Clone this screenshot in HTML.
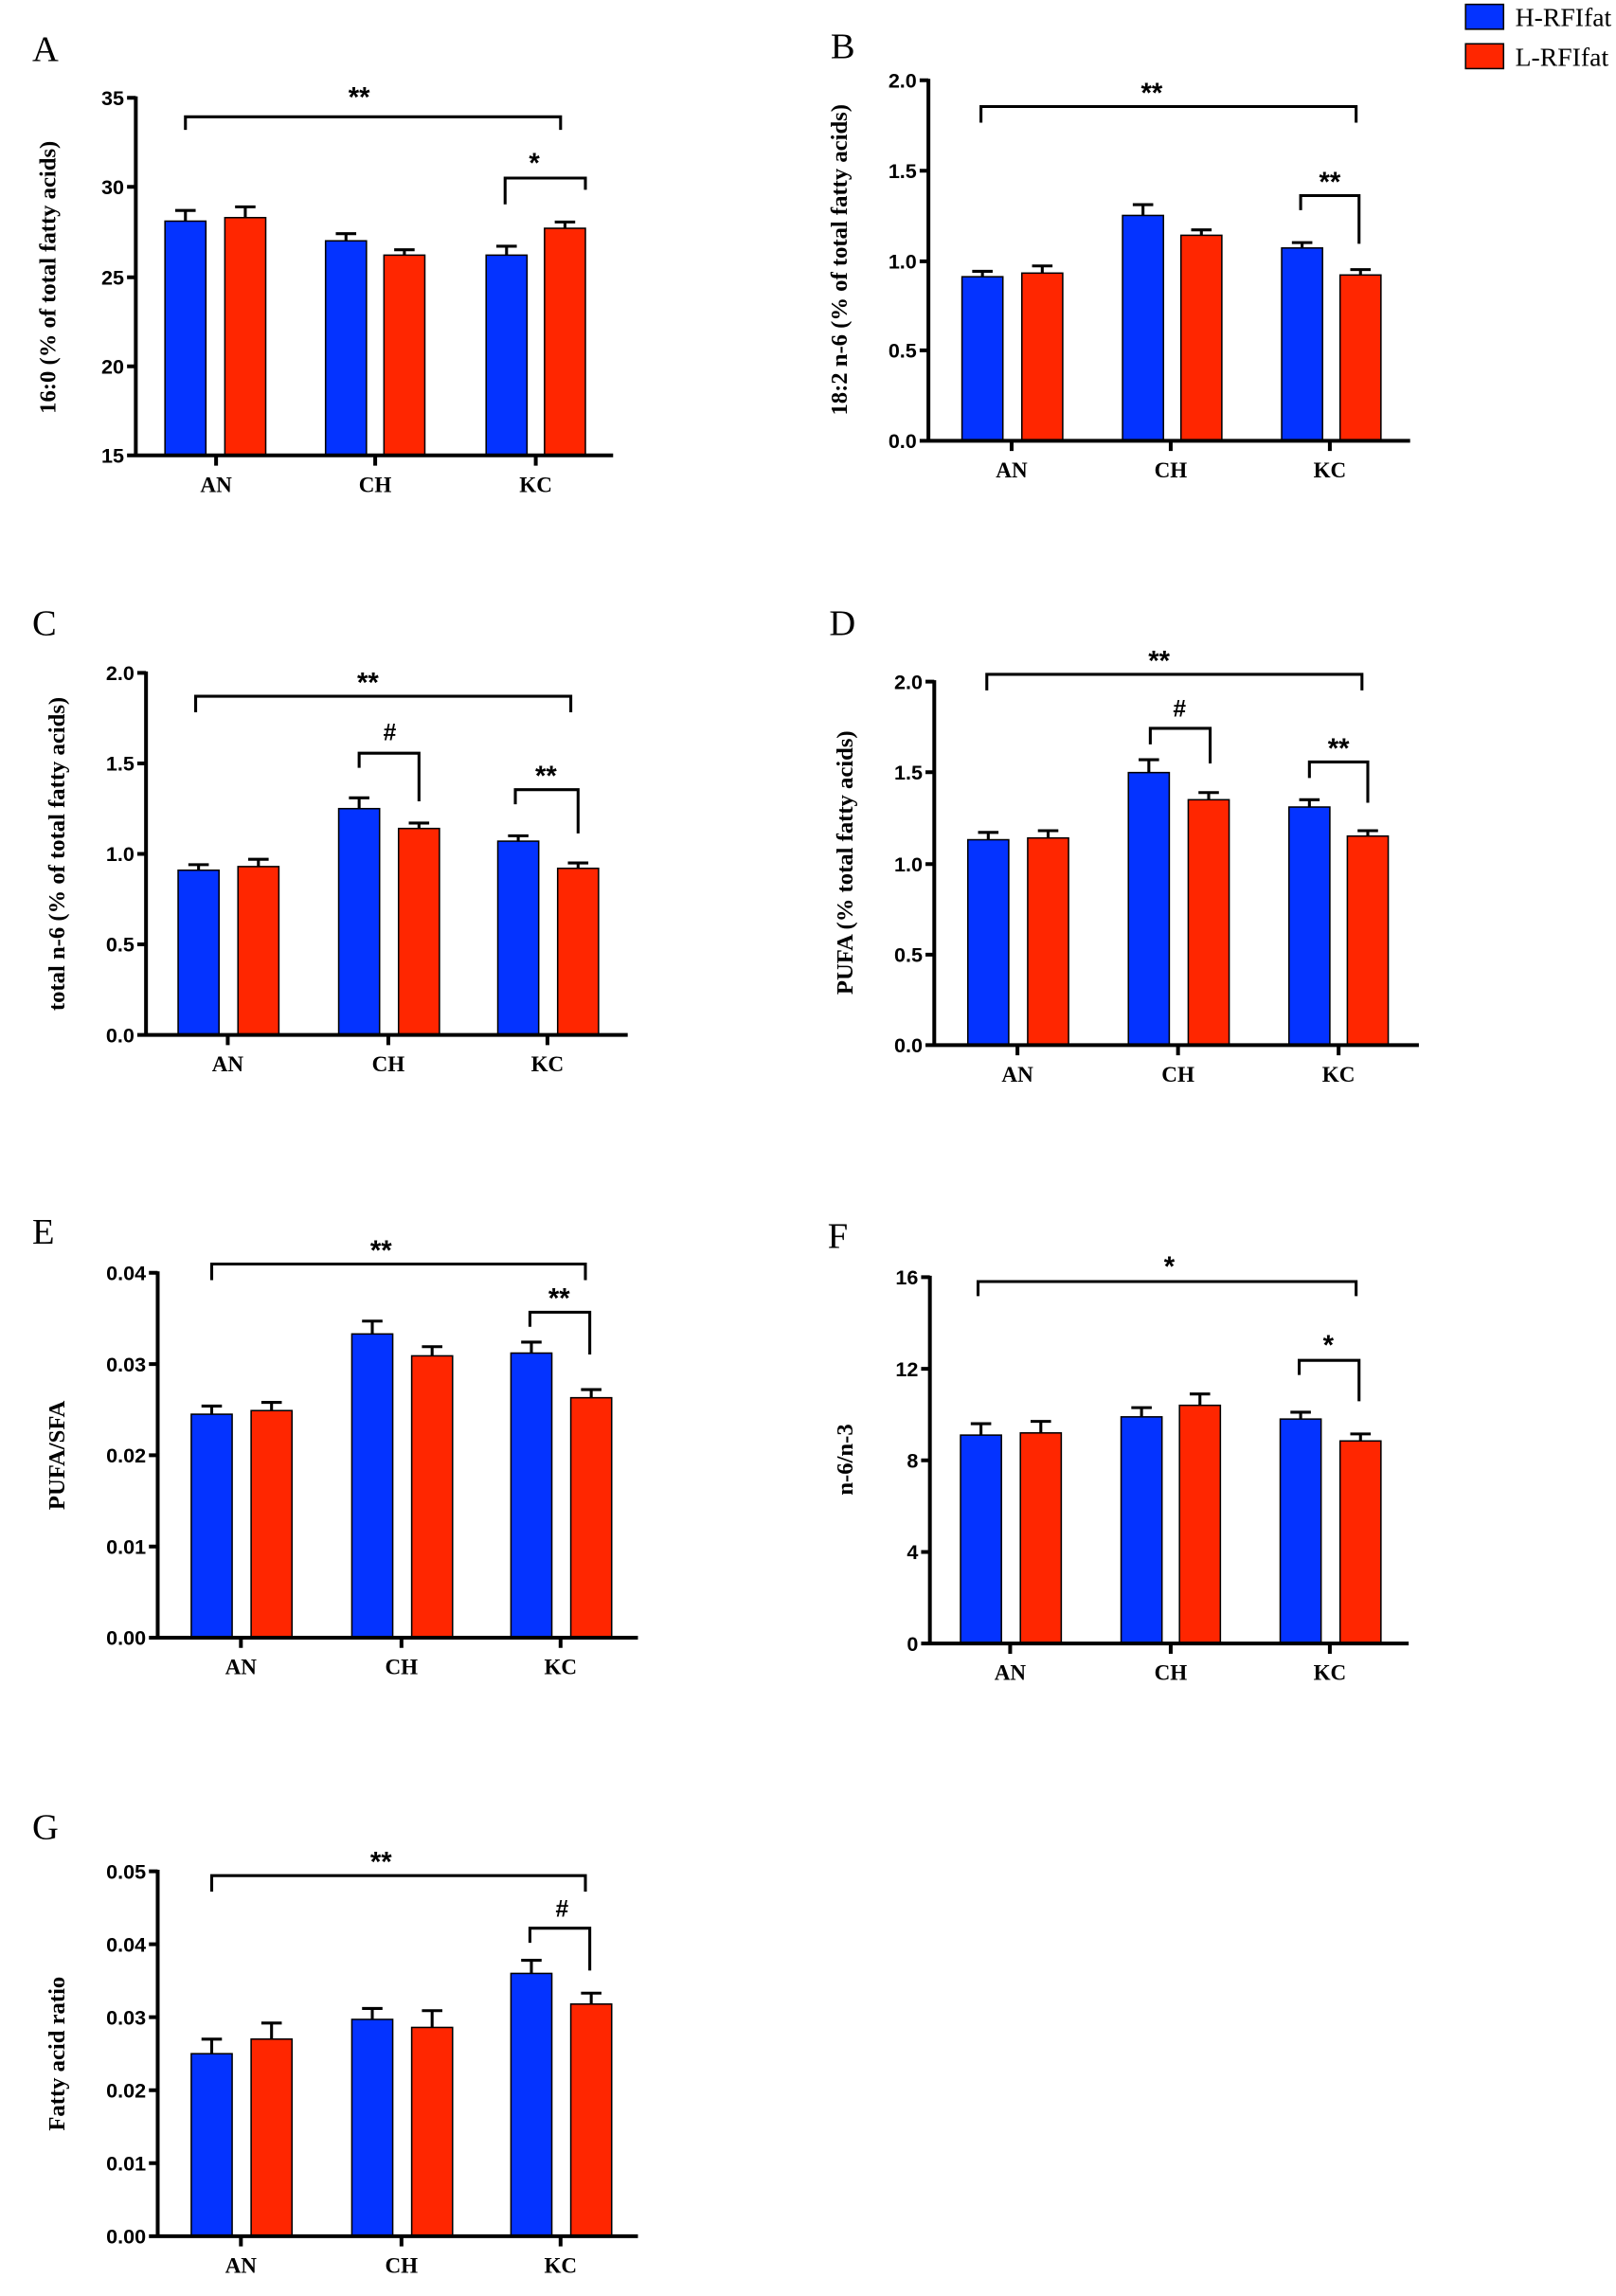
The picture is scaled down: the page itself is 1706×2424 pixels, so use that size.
<!DOCTYPE html>
<html><head><meta charset="utf-8"><style>
html,body{margin:0;padding:0;background:#fff;}
svg{display:block;}
.t{font-family:"Liberation Sans Narrow","Liberation Sans",sans-serif;font-weight:bold;font-size:14px;text-anchor:end;}
.c{font-family:"Liberation Serif",serif;font-weight:bold;font-size:15px;text-anchor:middle;}
.y{font-family:"Liberation Serif",serif;font-weight:bold;font-size:16px;text-anchor:middle;}
.L{font-family:"Liberation Serif",serif;font-size:25px;}
.s{font-family:"Liberation Sans",sans-serif;font-weight:bold;font-size:19px;text-anchor:middle;}
.lg{font-family:"Liberation Serif",serif;font-size:18px;}
.b{fill:#0433ff;stroke:#000;stroke-width:1;}
.r{fill:#ff2600;stroke:#000;stroke-width:1;}
.ax{stroke:#000;stroke-width:2.6;fill:none;}
.e{stroke:#000;stroke-width:2;fill:none;}
.br{stroke:#000;stroke-width:2;fill:none;}
</style></head><body>
<svg width="1706" height="2424" viewBox="0 0 1107 1573" xmlns="http://www.w3.org/2000/svg">
<!-- Legend -->
<rect x="1004" y="3" width="26" height="17" class="b"/>
<text x="1038" y="18" class="lg">H-RFIfat</text>
<rect x="1004" y="30" width="26" height="17" class="r"/>
<text x="1038" y="45" class="lg">L-RFIfat</text>

<!-- Panel A -->
<text x="22" y="42" class="L">A</text>
<text class="y" transform="translate(38,190) rotate(-90)">16:0 (% of total fatty acids)</text>
<rect x="113" y="151.5" width="28" height="160.5" class="b"/>
<rect x="154" y="149.1" width="28" height="162.9" class="r"/>
<rect x="223" y="165" width="28" height="147" class="b"/>
<rect x="263" y="174.8" width="28" height="137.2" class="r"/>
<rect x="333" y="174.8" width="28" height="137.2" class="b"/>
<rect x="373" y="156.4" width="28" height="155.6" class="r"/>
<path class="e" d="M127 151.5V144.2M120 144.2H134M168 149.1V141.7M161 141.7H175M237 165V160.1M230 160.1H244M277 174.8V171.1M270 171.1H284M347 174.8V168.7M340 168.7H354M387 156.4V152.1M380 152.1H394"/>
<path class="ax" d="M93 66V313M87 67H93M87 128H93M87 190H93M87 251H93M87 312H93M89 312H420M148 312V319M257 312V319M367 312V319"/>
<text x="85" y="72" class="t">35</text><text x="85" y="133" class="t">30</text><text x="85" y="195" class="t">25</text><text x="85" y="256" class="t">20</text><text x="85" y="317" class="t">15</text>
<text x="148" y="337" class="c">AN</text><text x="257" y="337" class="c">CH</text><text x="367" y="337" class="c">KC</text>
<path class="br" d="M127 89V80H384V89M346 140V122H401V130"/>
<text x="246" y="73" class="s">**</text><text x="366" y="118" class="s">*</text>

<!-- Panel B -->
<text x="569" y="40" class="L">B</text>
<text class="y" transform="translate(580,178) rotate(-90)">18:2 n-6 (% of total fatty acids)</text>
<rect x="659" y="189.6" width="28" height="112.4" class="b"/>
<rect x="700" y="187.1" width="28" height="114.9" class="r"/>
<rect x="769" y="147.6" width="28" height="154.4" class="b"/>
<rect x="809" y="161.2" width="28" height="140.8" class="r"/>
<rect x="878" y="169.9" width="28" height="132.1" class="b"/>
<rect x="918" y="188.4" width="28" height="113.6" class="r"/>
<path class="e" d="M673 189.6V185.9M666 185.9H680M714 187.1V182.2M707 182.2H721M783 147.6V140.2M776 140.2H790M823 161.2V157.5M816 157.5H830M892 169.9V166.2M885 166.2H899M932 188.4V184.7M925 184.7H939"/>
<path class="ax" d="M636 54V303M630 55H636M630 117H636M630 179H636M630 240H636M630 302H636M632 302H966M693 302V309M802 302V309M911 302V309"/>
<text x="628" y="60" class="t">2.0</text><text x="628" y="122" class="t">1.5</text><text x="628" y="184" class="t">1.0</text><text x="628" y="245" class="t">0.5</text><text x="628" y="307" class="t">0.0</text>
<text x="693" y="327" class="c">AN</text><text x="802" y="327" class="c">CH</text><text x="911" y="327" class="c">KC</text>
<path class="br" d="M672 84V73H929V84M891 144V134H931V167"/>
<text x="789" y="70" class="s">**</text><text x="911" y="131" class="s">**</text>

<!-- Panel C -->
<text x="22" y="435" class="L">C</text>
<text class="y" transform="translate(44,585) rotate(-90)">total n-6 (% of total fatty acids)</text>
<rect x="122" y="596.2" width="28" height="112.8" class="b"/>
<rect x="163" y="593.7" width="28" height="115.3" class="r"/>
<rect x="232" y="554" width="28" height="155" class="b"/>
<rect x="273" y="567.6" width="28" height="141.4" class="r"/>
<rect x="341" y="576.3" width="28" height="132.7" class="b"/>
<rect x="382" y="594.9" width="28" height="114.1" class="r"/>
<path class="e" d="M136 596.2V592.4M129 592.4H143M177 593.7V588.7M170 588.7H184M246 554V546.6M239 546.6H253M287 567.6V563.9M280 563.9H294M355 576.3V572.6M348 572.6H362M396 594.9V591.2M389 591.2H403"/>
<path class="ax" d="M100 460V710M94 461H100M94 523H100M94 585H100M94 647H100M94 709H100M96 709H430M156 709V716M266 709V716M375 709V716"/>
<text x="92" y="466" class="t">2.0</text><text x="92" y="528" class="t">1.5</text><text x="92" y="590" class="t">1.0</text><text x="92" y="652" class="t">0.5</text><text x="92" y="714" class="t">0.0</text>
<text x="156" y="734" class="c">AN</text><text x="266" y="734" class="c">CH</text><text x="375" y="734" class="c">KC</text>
<path class="br" d="M134 488V477H391V488M246 526V516H287V549M353 551V541H396V571"/>
<text x="252" y="474" class="s">**</text><text x="267" y="507" class="s" style="font-size:16px">#</text><text x="374" y="538" class="s">**</text>

<!-- Panel D -->
<text x="568" y="435" class="L">D</text>
<text class="y" transform="translate(584,591) rotate(-90)">PUFA (% total fatty acids)</text>
<rect x="663" y="575.3" width="28" height="140.7" class="b"/>
<rect x="704" y="574.1" width="28" height="141.9" class="r"/>
<rect x="773" y="529.3" width="28" height="186.7" class="b"/>
<rect x="814" y="547.9" width="28" height="168.1" class="r"/>
<rect x="883" y="552.9" width="28" height="163.1" class="b"/>
<rect x="923" y="572.8" width="28" height="143.2" class="r"/>
<path class="e" d="M677 575.3V570.3M670 570.3H684M718 574.1V569.1M711 569.1H725M787 529.3V520.5M780 520.5H794M828 547.9V543M821 543H835M897 552.9V547.9M890 547.9H904M937 572.8V569.1M930 569.1H944"/>
<path class="ax" d="M640 466V717M634 467H640M634 529H640M634 592H640M634 654H640M634 716H640M636 716H972M697 716V723M807 716V723M917 716V723"/>
<text x="632" y="472" class="t">2.0</text><text x="632" y="534" class="t">1.5</text><text x="632" y="597" class="t">1.0</text><text x="632" y="659" class="t">0.5</text><text x="632" y="721" class="t">0.0</text>
<text x="697" y="741" class="c">AN</text><text x="807" y="741" class="c">CH</text><text x="917" y="741" class="c">KC</text>
<path class="br" d="M676 473V462H933V473M788 510V499H829V523M897 533V522H937V550"/>
<text x="794" y="459" class="s">**</text><text x="808" y="491" class="s" style="font-size:16px">#</text><text x="917" y="519" class="s">**</text>

<!-- Panel E -->
<text x="22" y="852" class="L">E</text>
<text class="y" transform="translate(44,997) rotate(-90)">PUFA/SFA</text>
<rect x="131" y="968.9" width="28" height="153.1" class="b"/>
<rect x="172" y="966.4" width="28" height="155.6" class="r"/>
<rect x="241" y="913.9" width="28" height="208.1" class="b"/>
<rect x="282" y="928.9" width="28" height="193.1" class="r"/>
<rect x="350" y="927" width="28" height="195" class="b"/>
<rect x="391" y="957.6" width="28" height="164.4" class="r"/>
<path class="e" d="M145 968.9V963.3M138 963.3H152M186 966.4V960.8M179 960.8H193M255 913.9V905.1M248 905.1H262M296 928.9V922.6M289 922.6H303M364 927V919.5M357 919.5H371M405 957.6V952M398 952H412"/>
<path class="ax" d="M108 871V1123M102 872H108M102 934.5H108M102 997H108M102 1059.5H108M102 1122H108M104 1122H437M165 1122V1129M275 1122V1129M384 1122V1129"/>
<text x="100" y="877" class="t">0.04</text><text x="100" y="939.5" class="t">0.03</text><text x="100" y="1002" class="t">0.02</text><text x="100" y="1064.5" class="t">0.01</text><text x="100" y="1127" class="t">0.00</text>
<text x="165" y="1147" class="c">AN</text><text x="275" y="1147" class="c">CH</text><text x="384" y="1147" class="c">KC</text>
<path class="br" d="M145 877V866H401V877M363 909V899H404V928"/>
<text x="261" y="863" class="s">**</text><text x="383" y="896" class="s">**</text>

<!-- Panel F -->
<text x="567" y="855" class="L">F</text>
<text class="y" transform="translate(584,1000) rotate(-90)">n-6/n-3</text>
<rect x="658" y="983.2" width="28" height="142.8" class="b"/>
<rect x="699" y="981.7" width="28" height="144.3" class="r"/>
<rect x="768" y="970.7" width="28" height="155.3" class="b"/>
<rect x="808" y="962.8" width="28" height="163.2" class="r"/>
<rect x="877" y="972.2" width="28" height="153.8" class="b"/>
<rect x="918" y="987.2" width="28" height="138.8" class="r"/>
<path class="e" d="M672 983.2V975.4M665 975.4H679M713 981.7V973.8M706 973.8H720M782 970.7V964.4M775 964.4H789M822 962.8V955M815 955H829M891 972.2V967.5M884 967.5H898M932 987.2V982.4M925 982.4H939"/>
<path class="ax" d="M637 874V1127M631 875H637M631 937.75H637M631 1000.5H637M631 1063.25H637M631 1126H637M633 1126H965M692 1126V1133M802 1126V1133M911 1126V1133"/>
<text x="629" y="880" class="t">16</text><text x="629" y="943" class="t">12</text><text x="629" y="1005.5" class="t">8</text><text x="629" y="1068" class="t">4</text><text x="629" y="1131" class="t">0</text>
<text x="692" y="1151" class="c">AN</text><text x="802" y="1151" class="c">CH</text><text x="911" y="1151" class="c">KC</text>
<path class="br" d="M670 888V878H929V888M890 942V932H931V960"/>
<text x="801" y="874" class="s">*</text><text x="910" y="928" class="s">*</text>

<!-- Panel G -->
<text x="22" y="1260" class="L">G</text>
<text class="y" transform="translate(44,1407) rotate(-90)">Fatty acid ratio</text>
<rect x="131" y="1407" width="28" height="125" class="b"/>
<rect x="172" y="1397" width="28" height="135" class="r"/>
<rect x="241" y="1383.5" width="28" height="148.5" class="b"/>
<rect x="282" y="1389" width="28" height="143" class="r"/>
<rect x="350" y="1352" width="28" height="180" class="b"/>
<rect x="391" y="1373" width="28" height="159" class="r"/>
<path class="e" d="M145 1407V1397M138 1397H152M186 1397V1386M179 1386H193M255 1383.5V1376M248 1376H262M296 1389V1377.5M289 1377.5H303M364 1352V1343M357 1343H371M405 1373V1365.5M398 1365.5H412"/>
<path class="ax" d="M108 1281V1533M102 1282H108M102 1332H108M102 1382H108M102 1432H108M102 1482H108M102 1532H108M104 1532H437M165 1532V1539M275 1532V1539M384 1532V1539"/>
<text x="100" y="1287" class="t">0.05</text><text x="100" y="1337" class="t">0.04</text><text x="100" y="1387" class="t">0.03</text><text x="100" y="1437" class="t">0.02</text><text x="100" y="1487" class="t">0.01</text><text x="100" y="1537" class="t">0.00</text>
<text x="165" y="1557" class="c">AN</text><text x="275" y="1557" class="c">CH</text><text x="384" y="1557" class="c">KC</text>
<path class="br" d="M145 1296V1285H401V1296M363 1331V1321H404V1350"/>
<text x="261" y="1282" class="s">**</text><text x="385" y="1313" class="s" style="font-size:16px">#</text>
</svg>
</body></html>
